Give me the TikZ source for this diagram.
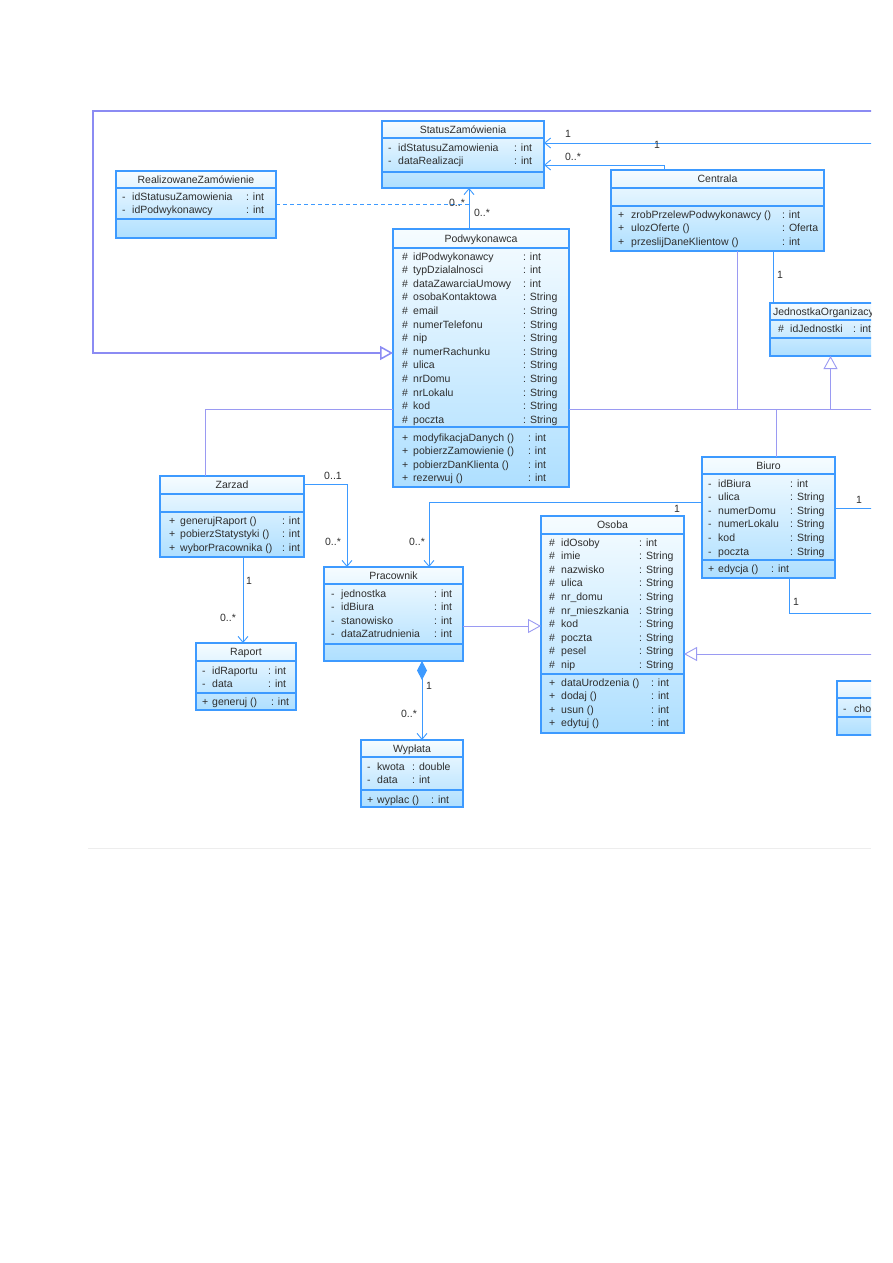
\documentclass[tikz,border=0pt]{standalone}
\usepackage{fontspec}
\setmainfont{Liberation Sans}
\usetikzlibrary{arrows.meta,calc}
\definecolor{UmlBlue}{HTML}{3D9AFF}
\definecolor{BoxTop}{HTML}{F6FCFF}
\definecolor{BoxBot}{HTML}{AEDFFF}
\definecolor{GenLine}{HTML}{9A9AF2}
\definecolor{Ink}{HTML}{2E2E2E}
\definecolor{Rule}{HTML}{EDEDED}
\newcommand{\umlsize}{\fontsize{10.5}{13.6}\selectfont}
\newcommand{\umlrows}[3]{\begin{tabular}{@{}p{#1}@{}p{#2}@{}l@{}}#3\end{tabular}}
\newcommand{\csepat}[2]{\draw[csep] (#1.west |- 0,#2) -- (#1.east |- 0,#2);}

\begin{document}
\begin{tikzpicture}[
      x=1pt, y=-1pt,
      cls/.style={draw=UmlBlue, line width=1.1pt, top color=BoxTop, bottom color=BoxBot,
                  anchor=north west, inner sep=0, outer sep=0},
      ttl/.style={anchor=base, inner sep=0, font=\umlsize, text=Ink},
      rows/.style={anchor=north west, inner sep=0, font=\umlsize, text=Ink},
      lbl/.style={inner sep=0, font=\umlsize, text=Ink},
      csep/.style={draw=UmlBlue, line width=1.1pt},
      assoc/.style={draw=UmlBlue, line width=0.9pt, -{Straight Barb[length=6pt,width=10pt]}},
      plain/.style={draw=UmlBlue, line width=0.9pt},
      gen/.style={draw=GenLine, line width=0.9pt, -{Triangle[open,fill=white,length=13pt,width=14pt]}},
      genline/.style={draw=GenLine, line width=0.9pt}
    ]
  \useasboundingbox (0,0) rectangle (893,1263);
  \begin{scope}
  \clip (0,0) rectangle (871,1263);

  % classes
  \node[cls, minimum width=162, minimum height=67] (stat) at (382,121) {};
  \csepat{stat}{138} \csepat{stat}{172}
  \node[ttl] (statT) at (stat.north |- 0,133.6) {StatusZamówienia};
  \node[rows] (statA) at (388,141.3) {\umlrows{10pt}{116pt}{- & idStatusuZamowienia & : int\\ - & dataRealizacji & : int}};

  \node[cls, minimum width=160, minimum height=67] (real) at (116,171) {};
  \csepat{real}{188} \csepat{real}{219}
  \node[ttl] (realT) at (real.north |- 0,183.3) {RealizowaneZamówienie};
  \node[rows] (realA) at (122,190.3) {\umlrows{10pt}{114pt}{- & idStatusuZamowienia & : int\\ - & idPodwykonawcy & : int}};

  \node[cls, minimum width=176, minimum height=258] (podw) at (393,229) {};
  \csepat{podw}{248} \csepat{podw}{427}
  \node[ttl] (podwT) at (podw.north |- 0,242.3) {Podwykonawca};
  \node[rows] (podwA) at (402,250.3) {\umlrows{11pt}{110pt}{%
    \# & idPodwykonawcy & : int\\ \# & typDzialalnosci & : int\\ \# & dataZawarciaUmowy & : int\\
    \# & osobaKontaktowa & : String\\ \# & email & : String\\ \# & numerTelefonu & : String\\
    \# & nip & : String\\ \# & numerRachunku & : String\\ \# & ulica & : String\\
    \# & nrDomu & : String\\ \# & nrLokalu & : String\\ \# & kod & : String\\ \# & poczta & : String}};
  \node[rows] (podwM) at (402,431.3) {\umlrows{11pt}{115pt}{%
    + & modyfikacjaDanych () & : int\\ + & pobierzZamowienie () & : int\\
    + & pobierzDanKlienta () & : int\\ + & rezerwuj () & : int}};

  \node[cls, minimum width=213, minimum height=81] (cent) at (611,170) {};
  \csepat{cent}{188} \csepat{cent}{206}
  \node[ttl] (centT) at (cent.north |- 0,182.8) {Centrala};
  \node[rows] (centM) at (618,208.3) {\umlrows{13pt}{151pt}{%
    + & zrobPrzelewPodwykonawcy () & : int\\ + & ulozOferte () & : Oferta\\ + & przeslijDaneKlientow () & : int}};

  \node[cls, minimum width=121, minimum height=53] (jedn) at (770,303) {};
  \csepat{jedn}{320} \csepat{jedn}{338}
  \node[ttl] (jednT) at (jedn.north |- 0,315.3) {JednostkaOrganizacyjna};
  \node[rows] (jednA) at (778,322.3) {\umlrows{12pt}{63pt}{\# & idJednostki & : int}};

  \node[cls, minimum width=144, minimum height=81] (zarz) at (160,476) {};
  \csepat{zarz}{494} \csepat{zarz}{512}
  \node[ttl] (zarzT) at (zarz.north |- 0,488.8) {Zarzad};
  \node[rows] (zarzM) at (169,514.3) {\umlrows{11pt}{102pt}{%
    + & generujRaport () & : int\\ + & pobierzStatystyki () & : int\\ + & wyborPracownika () & : int}};

  \node[cls, minimum width=139, minimum height=94] (prac) at (324,567) {};
  \csepat{prac}{584} \csepat{prac}{644}
  \node[ttl] (pracT) at (prac.north |- 0,579.3) {Pracownik};
  \node[rows] (pracA) at (331,587.3) {\umlrows{10pt}{93pt}{%
    - & jednostka & : int\\ - & idBiura & : int\\ - & stanowisko & : int\\ - & dataZatrudnienia & : int}};

  \node[cls, minimum width=102, minimum height=67] (wyp) at (361,740) {};
  \csepat{wyp}{757} \csepat{wyp}{790}
  \node[ttl] (wypT) at (wyp.north |- 0,752.3) {Wypłata};
  \node[rows] (wypA) at (367,760.3) {\umlrows{10pt}{35pt}{- & kwota & : double\\ - & data & : int}};
  \node[rows] (wypM) at (367,793.3) {\umlrows{10pt}{54pt}{+ & wyplac () & : int}};

  \node[cls, minimum width=100, minimum height=67] (rap) at (196,643) {};
  \csepat{rap}{661} \csepat{rap}{693}
  \node[ttl] (rapT) at (rap.north |- 0,655.8) {Raport};
  \node[rows] (rapA) at (202,664.3) {\umlrows{10pt}{56pt}{- & idRaportu & : int\\ - & data & : int}};
  \node[rows] (rapM) at (202,695.3) {\umlrows{10pt}{59pt}{+ & generuj () & : int}};

  \node[cls, minimum width=143, minimum height=217] (osoba) at (541,516) {};
  \csepat{osoba}{534} \csepat{osoba}{674}
  \node[ttl] (osobaT) at (osoba.north |- 0,528.8) {Osoba};
  \node[rows] (osobaA) at (549,536.3) {\umlrows{12pt}{78pt}{%
    \# & idOsoby & : int\\ \# & imie & : String\\ \# & nazwisko & : String\\ \# & ulica & : String\\
    \# & nr\_domu & : String\\ \# & nr\_mieszkania & : String\\ \# & kod & : String\\
    \# & poczta & : String\\ \# & pesel & : String\\ \# & nip & : String}};
  \node[rows] (osobaM) at (549,676.3) {\umlrows{12pt}{90pt}{%
    + & dataUrodzenia () & : int\\ + & dodaj () & : int\\ + & usun () & : int\\ + & edytuj () & : int}};

  \node[cls, minimum width=133, minimum height=121] (biuro) at (702,457) {};
  \csepat{biuro}{474} \csepat{biuro}{560}
  \node[ttl] (biuroT) at (biuro.north |- 0,469.3) {Biuro};
  \node[rows] (biuroA) at (708,477.3) {\umlrows{10pt}{72pt}{%
    - & idBiura & : int\\ - & ulica & : String\\ - & numerDomu & : String\\
    - & numerLokalu & : String\\ - & kod & : String\\ - & poczta & : String}};
  \node[rows] (biuroM) at (708,562.3) {\umlrows{10pt}{53pt}{+ & edycja () & : int}};

  \node[cls, minimum width=100, minimum height=54] (chor) at (837,681) {};
  \csepat{chor}{698} \csepat{chor}{717}
  \node[rows] (chorA) at (843,702.3) {\umlrows{11pt}{40pt}{- & cho &}};

  % bend points
  \coordinate (frameR) at (880,111);
  \coordinate (frameL) at (93,353);
  \coordinate (topR) at (880,143);
  \coordinate (centUp) at (664,165);
  \coordinate (podwUp) at (469,204);
  \coordinate (centJedn) at (773,0);
  \coordinate (genL) at (205,409);
  \coordinate (genR) at (880,409);
  \coordinate (zarzPrac) at (347,484);
  \coordinate (biuroPrac) at (429,502);
  \coordinate (zarzRap) at (243,0);
  \coordinate (pracOsoba) at (0,626);
  \coordinate (pracWyp) at (422,0);
  \coordinate (biuroR) at (880,508);
  \coordinate (biuroDown) at (789,613);
  \coordinate (biuroDR) at (880,613);
  \coordinate (osobaR) at (880,654);

  % connectors
  \draw[gen, line width=1.5pt, draw=GenLine!90!blue] (frameR) -| (frameL) -- (frameL -| podw.west);
  \draw[assoc] (topR) -- (topR -| stat.east);
  \draw[assoc] (cent.north -| centUp) |- (centUp -| stat.east);
  \draw[assoc] (podw.north -| podwUp) -- (stat.south -| podwUp);
  \draw[plain, dashed, dash pattern=on 4pt off 3pt] (real.east |- podwUp) -- (podwUp);
  \draw[plain] (cent.south -| centJedn) -- (jedn.north -| centJedn);
  \draw[genline] (cent.south -| 737,0) -- (737,409);
  \draw[genline] (biuro.north -| 776,0) -- (776,409);
  \draw[genline] (zarz.north -| genL) -- (genL) -- (genL -| podw.west);
  \draw[genline] (genL -| podw.east) -- (genR);
  \draw[gen] (jedn.south |- genL) -- (jedn.south);
  \draw[assoc] (zarz.east |- zarzPrac) -| (prac.north -| zarzPrac);
  \draw[assoc] (biuro.west |- biuroPrac) -| (prac.north -| biuroPrac);
  \draw[assoc] (zarz.south -| zarzRap) -- (rap.north -| zarzRap);
  \draw[gen] (prac.east |- pracOsoba) -- (osoba.west |- pracOsoba);
  \draw[draw=UmlBlue, line width=0.9pt,
        {Diamond[length=19pt,width=10pt,fill=UmlBlue]}-{Straight Barb[length=6pt,width=10pt]}]
        (prac.south -| pracWyp) -- (wyp.north -| pracWyp);
  \draw[plain] (biuro.east |- biuroR) -- (biuroR);
  \draw[plain] (biuro.south -| biuroDown) |- (biuroDR);
  \draw[gen] (osobaR) -- (osoba.east |- osobaR);
  \draw[Rule, line width=0.8pt] (88,848) -- (871,848);

  % multiplicities
  \node[lbl] (m1) at (568,134) {1};
  \node[lbl] (m2) at (657,145) {1};
  \node[lbl] (m3) at (573,157) {0..*};
  \node[lbl] (m4) at (457,203) {0..*};
  \node[lbl] (m5) at (482,213) {0..*};
  \node[lbl] (m6) at (780,275) {1};
  \node[lbl] (m7) at (333,476) {0..1};
  \node[lbl] (m8) at (333,542) {0..*};
  \node[lbl] (m9) at (417,542) {0..*};
  \node[lbl] (m10) at (677,509) {1};
  \node[lbl] (m11) at (249,581) {1};
  \node[lbl] (m12) at (228,618) {0..*};
  \node[lbl] (m13) at (429,686) {1};
  \node[lbl] (m14) at (409,714) {0..*};
  \node[lbl] (m15) at (859,500) {1};
  \node[lbl] (m16) at (796,602) {1};
  \end{scope}
\end{tikzpicture}
\end{document}
